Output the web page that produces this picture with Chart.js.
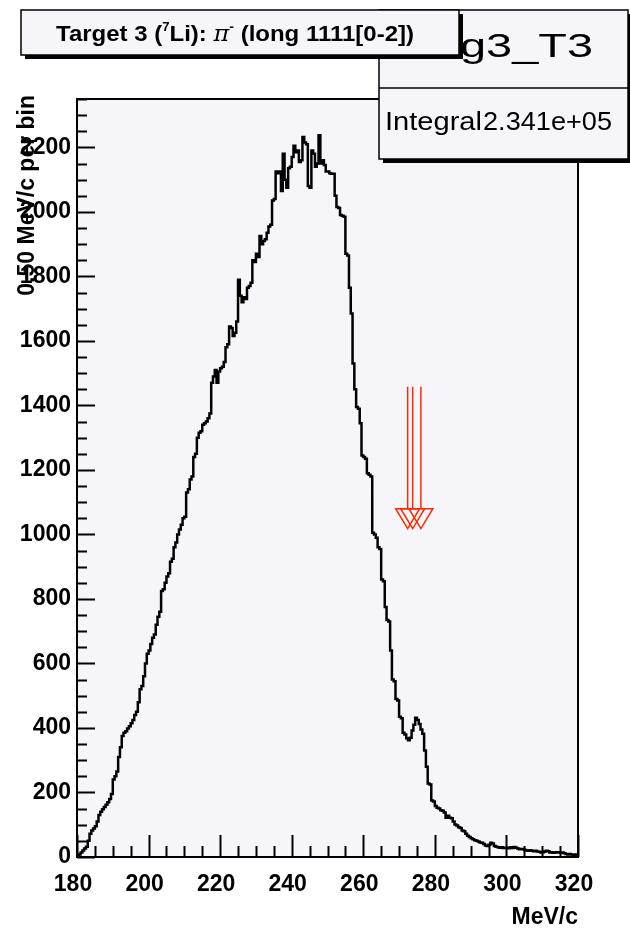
<!DOCTYPE html>
<html>
<head>
<meta charset="utf-8">
<script src="https://cdn.jsdelivr.net/npm/chart.js@4.4.0/dist/chart.umd.min.js"></script>
<style>
  html, body { margin: 0; padding: 0; background: #fff; }
</style>
</head>
<body>
<canvas id="histo" width="630" height="932"></canvas>
<script>
// histogram binning (MeV/c)
const xMin = 180, xMax = 320, binWidth = 0.5;
// counts per 0.5 MeV/c bin
const counts = [
  3, 8, 14, 20, 26, 32, 50, 72, 82, 88,
  95, 110, 130, 140, 148, 155, 162, 170, 180, 195,
  240, 250, 265, 310, 340, 375, 385, 390, 398, 405,
  415, 425, 440, 450, 480, 520, 530, 560, 600, 630,
  640, 660, 680, 690, 720, 745, 760, 825, 830, 850,
  870, 880, 915, 925, 960, 975, 1000, 1015, 1030, 1050,
  1055, 1130, 1140, 1170, 1180, 1240, 1250, 1300, 1315, 1320,
  1340, 1345, 1350, 1360, 1375, 1470, 1490, 1510, 1470, 1505,
  1515, 1520, 1535, 1580, 1590, 1645, 1640, 1615, 1625, 1660,
  1790, 1740, 1720, 1735, 1730, 1765, 1770, 1780, 1850, 1845,
  1870, 1860, 1925, 1900, 1910, 1915, 1935, 1955, 1960, 2035,
  2040, 2125, 2120, 2125, 2065, 2180, 2100, 2075, 2135, 2140,
  2170, 2205, 2185, 2190, 2155, 2160, 2232, 2215, 2210, 2080,
  2075, 2190, 2180, 2140, 2150, 2238, 2150, 2160, 2145, 2125,
  2125, 2120, 2118, 2118, 2050, 2015, 2012, 1990, 1988, 1985,
  1870, 1865, 1765, 1685, 1530, 1450, 1395, 1390, 1345, 1245,
  1240, 1235, 1190, 1185, 1180, 1005, 1000, 990, 960, 955,
  860, 855, 775, 735, 730, 640, 550, 545, 490, 485,
  435, 430, 385, 380, 368, 362, 370, 392, 410, 432,
  425, 412, 395, 382, 330, 280, 228, 225, 175, 172,
  158, 153, 150, 145, 143, 138, 122, 128, 122, 120,
  110, 101, 98, 92, 90, 82, 80, 72, 66, 62,
  58, 55, 52, 50, 48, 45, 44, 40, 36, 34,
  38, 44, 42, 34, 32, 30, 29, 30, 28, 29,
  29, 27, 30, 28, 31, 29, 26, 24, 25, 24,
  22, 20, 19, 21, 19, 18, 19, 17, 16, 14,
  15, 17, 19, 18, 14, 15, 13, 14, 15, 14,
  13, 14, 12, 9, 8, 9, 8, 7, 8, 6
];
const yMax = 2350;
const xStep = 20, xMinorStep = 5;
const yStep = 200, yMinorStep = 50;
// cut arrows
const arrowX = [272.4, 273.8, 276.1];
const arrowTop = 1458, arrowTip = 1018;

const histName = 'hMomTrg3_T3';
const integralText = '2.341e+05';
const xTitle = 'MeV/c';
const yTitle = '0.50 MeV/c per bin';

const FONT = '"Liberation Sans", Arial, sans-serif';
const PAD_BG = '#f6f5f9';

// step points: low edge of every bin, then the last upper edge
const points = counts.map((c, i) => ({ x: xMin + i * binWidth, y: c }));
points.push({ x: xMax, y: counts[counts.length - 1] });

function drawBox(ctx, x1, y1, x2, y2) {
  ctx.fillStyle = '#000';
  ctx.fillRect(x1 + 4, y1 + 4, x2 - x1, y2 - y1);
  ctx.fillStyle = PAD_BG;
  ctx.fillRect(x1, y1, x2 - x1, y2 - y1);
  ctx.strokeStyle = '#000';
  ctx.lineWidth = 1.5;
  ctx.strokeRect(x1, y1, x2 - x1, y2 - y1);
  ctx.fillStyle = '#000';
}

// draw text squeezed/stretched horizontally to a given width
function fitText(ctx, text, x, y, w, align) {
  const nat = ctx.measureText(text).width;
  ctx.save();
  ctx.translate(x, y);
  ctx.scale(w / nat, 1);
  ctx.textAlign = align;
  ctx.fillText(text, 0, 0);
  ctx.restore();
}

const rootStyle = {
  id: 'rootStyle',
  beforeDraw(chart) {
    const ctx = chart.ctx, a = chart.chartArea;
    ctx.save();
    ctx.fillStyle = '#fff';
    ctx.fillRect(0, 0, chart.width, chart.height);
    ctx.fillStyle = PAD_BG;
    ctx.fillRect(a.left, a.top, a.right - a.left, a.bottom - a.top);
    ctx.restore();
  },
  afterDraw(chart) {
    const ctx = chart.ctx, a = chart.chartArea;
    const xs = chart.scales.x, ys = chart.scales.y;
    ctx.save();

    // ticks, inside the frame
    ctx.strokeStyle = '#000';
    ctx.lineWidth = 2;
    ctx.beginPath();
    for (let v = xMin; v <= xMax + 1e-9; v += xMinorStep) {
      const px = Math.round(xs.getPixelForValue(v)) + 0.5;
      const len = (v - xMin) % xStep === 0 ? 22 : 11;
      ctx.moveTo(px, a.bottom);
      ctx.lineTo(px, a.bottom - len);
    }
    for (let v = 0; v <= yMax + 1e-9; v += yMinorStep) {
      const py = Math.round(ys.getPixelForValue(v)) + 0.5;
      const len = v % yStep === 0 ? 18 : 10;
      ctx.moveTo(a.left, py);
      ctx.lineTo(a.left + len, py);
    }
    ctx.stroke();

    // frame
    ctx.lineWidth = 2;
    ctx.strokeRect(a.left, a.top, a.right - a.left, a.bottom - a.top);

    // axis titles
    ctx.fillStyle = '#000';
    ctx.font = 'bold 23px ' + FONT;
    ctx.textAlign = 'right';
    ctx.textBaseline = 'alphabetic';
    ctx.fillText(xTitle, a.right, 924);
    ctx.save();
    ctx.translate(34, 95);
    ctx.rotate(-Math.PI / 2);
    ctx.textAlign = 'right';
    ctx.fillText(yTitle, 0, 0);
    ctx.restore();

    // arrows
    ctx.strokeStyle = '#ff2a00';
    ctx.lineWidth = 1.5;
    arrowX.forEach(v => {
      const px = xs.getPixelForValue(v);
      const top = ys.getPixelForValue(arrowTop);
      const tip = ys.getPixelForValue(arrowTip);
      ctx.beginPath();
      ctx.moveTo(px, top);
      ctx.lineTo(px, tip - 20);
      ctx.moveTo(px - 12, tip - 20);
      ctx.lineTo(px + 12, tip - 20);
      ctx.lineTo(px, tip);
      ctx.closePath();
      ctx.stroke();
    });

    // stats box
    drawBox(ctx, 379, 10, 628, 159);
    ctx.strokeStyle = '#000';
    ctx.lineWidth = 1.5;
    ctx.beginPath();
    ctx.moveTo(379, 88);
    ctx.lineTo(628, 88);
    ctx.stroke();
    ctx.textBaseline = 'alphabetic';
    ctx.font = '34px ' + FONT;
    const tail = 'g3_T3';
    const sc = 133 / ctx.measureText(tail).width;
    ctx.save();
    ctx.translate(593, 57);
    ctx.scale(sc, 1);
    ctx.textAlign = 'right';
    ctx.fillText(histName, 0, 0);
    ctx.restore();
    ctx.font = '25px ' + FONT;
    fitText(ctx, 'Integral', 385, 130, 97, 'left');
    fitText(ctx, integralText, 612, 130, 129, 'right');

    // title box
    drawBox(ctx, 21, 10, 459, 55);
    const parts = [
      { t: 'Target 3 (', f: 'bold 22px ' + FONT, dy: 0 },
      { t: '7', f: 'bold 12px ' + FONT, dy: -10 },
      { t: 'Li): ', f: 'bold 22px ' + FONT, dy: 0 },
      { t: 'π', f: 'italic 22px "DejaVu Serif", serif', dy: 0 },
      { t: '-', f: 'bold 13px ' + FONT, dy: -10 },
      { t: ' (long 1111[0-2])', f: 'bold 22px ' + FONT, dy: 0 }
    ];
    let total = 0;
    parts.forEach(p => { ctx.font = p.f; p.w = ctx.measureText(p.t).width; total += p.w; });
    const s = 358 / total;
    ctx.save();
    ctx.translate(56, 41);
    ctx.scale(s, 1);
    ctx.textAlign = 'left';
    ctx.fillStyle = '#000';
    let cx = 0;
    parts.forEach(p => {
      ctx.font = p.f;
      ctx.fillText(p.t, cx, p.dy);
      cx += p.w;
    });
    ctx.restore();

    ctx.restore();
  }
};

new Chart(document.getElementById('histo'), {
  type: 'line',
  data: {
    datasets: [{
      data: points,
      stepped: true,
      borderColor: '#000',
      borderWidth: 2.5,
      pointRadius: 0,
      fill: false
    }]
  },
  options: {
    responsive: false,
    animation: false,
    devicePixelRatio: 1,
    layout: { padding: { top: 99, right: 52, left: 0, bottom: 0 } },
    plugins: { legend: { display: false }, tooltip: { enabled: false } },
    scales: {
      x: {
        type: 'linear',
        min: xMin,
        max: xMax,
        grid: { display: false, drawTicks: false },
        border: { display: false },
        ticks: {
          stepSize: xStep,
          includeBounds: false,
          padding: 14,
          labelOffset: -4,
          maxRotation: 0,
          autoSkip: false,
          color: '#000',
          font: { family: FONT, size: 23, weight: 'bold' },
          callback: v => String(v)
        },
        afterFit(scale) { scale.height = 75; }
      },
      y: {
        min: 0,
        max: yMax,
        grid: { display: false, drawTicks: false },
        border: { display: false },
        ticks: {
          stepSize: yStep,
          includeBounds: false,
          padding: 6,
          color: '#000',
          font: { family: FONT, size: 23, weight: 'bold' },
          callback: v => String(v)
        },
        afterFit(scale) { scale.width = 77; }
      }
    }
  },
  plugins: [rootStyle]
});
</script>
</body>
</html>
